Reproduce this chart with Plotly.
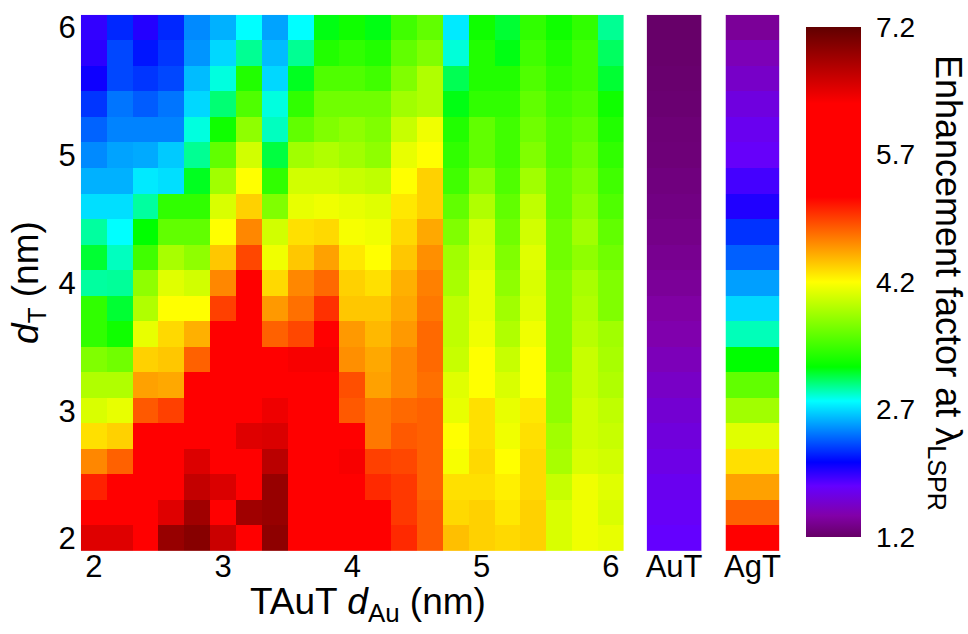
import plotly.graph_objects as go

# ---- data ----
d_au = [2.0, 2.2, 2.4, 2.6, 2.8, 3.0, 3.2, 3.4, 3.6, 3.8, 4.0,
        4.2, 4.4, 4.6, 4.8, 5.0, 5.2, 5.4, 5.6, 5.8, 6.0]
d_t = [2.0, 2.2, 2.4, 2.6, 2.8, 3.0, 3.2, 3.4, 3.6, 3.8, 4.0,
       4.2, 4.4, 4.6, 4.8, 5.0, 5.2, 5.4, 5.6, 5.8, 6.0]

# rows listed from d_T = 6.0 (top) down to d_T = 2.0 (bottom)
taut_rows_top_down = [
    [1.94, 2.19, 1.98, 2.19, 2.47, 2.58, 2.80, 2.54, 2.80, 3.17, 3.26, 3.17, 3.45, 3.58, 2.74, 3.26, 3.12, 3.39, 3.26, 3.39, 2.97],
    [1.96, 2.28, 2.14, 2.23, 2.50, 2.69, 2.97, 2.61, 2.97, 3.33, 3.39, 3.33, 3.58, 3.70, 2.86, 3.33, 3.17, 3.45, 3.33, 3.45, 3.05],
    [2.04, 2.28, 2.23, 2.28, 2.61, 2.85, 3.33, 2.69, 3.15, 3.51, 3.51, 3.45, 3.70, 3.89, 3.07, 3.33, 3.33, 3.51, 3.39, 3.45, 3.12],
    [2.23, 2.41, 2.34, 2.41, 2.69, 3.02, 3.51, 2.85, 3.39, 3.64, 3.64, 3.64, 3.83, 3.89, 3.17, 3.39, 3.39, 3.58, 3.45, 3.51, 3.26],
    [2.36, 2.45, 2.45, 2.45, 2.85, 3.26, 3.76, 2.90, 3.58, 3.70, 3.76, 3.70, 3.98, 4.14, 3.33, 3.58, 3.45, 3.64, 3.51, 3.58, 3.33],
    [2.47, 2.54, 2.56, 2.65, 2.97, 3.58, 4.02, 3.10, 3.83, 3.89, 3.83, 3.76, 4.11, 4.20, 3.39, 3.58, 3.45, 3.70, 3.51, 3.64, 3.39],
    [2.58, 2.58, 2.74, 2.71, 3.15, 3.83, 4.20, 3.39, 4.02, 4.02, 3.98, 3.95, 4.20, 4.38, 3.45, 3.76, 3.51, 3.83, 3.58, 3.70, 3.45],
    [2.71, 2.71, 2.95, 3.39, 3.39, 4.05, 4.38, 3.70, 4.11, 4.14, 4.11, 4.08, 4.29, 4.38, 3.58, 3.89, 3.58, 3.95, 3.58, 3.76, 3.51],
    [2.95, 2.80, 3.20, 3.58, 3.58, 4.20, 4.67, 4.02, 4.32, 4.35, 4.17, 4.14, 4.35, 4.54, 3.70, 4.02, 3.64, 4.02, 3.64, 3.83, 3.58],
    [3.12, 2.90, 3.45, 3.86, 3.76, 4.42, 4.92, 4.14, 4.42, 4.57, 4.29, 4.20, 4.42, 4.64, 3.83, 4.05, 3.70, 4.08, 3.64, 3.76, 3.64],
    [2.95, 2.96, 3.76, 4.08, 4.02, 4.67, 5.50, 4.35, 4.67, 4.79, 4.38, 4.32, 4.51, 4.70, 3.86, 4.11, 3.76, 4.05, 3.70, 3.86, 3.70],
    [3.39, 3.12, 3.89, 4.20, 4.20, 4.95, 5.60, 4.60, 4.76, 5.01, 4.42, 4.42, 4.54, 4.73, 3.95, 4.11, 3.83, 4.08, 3.70, 3.89, 3.70],
    [3.39, 3.26, 4.11, 4.35, 4.51, 5.50, 5.60, 4.82, 4.92, 5.60, 4.60, 4.48, 4.60, 4.79, 3.95, 4.14, 3.89, 4.14, 3.70, 3.92, 3.83],
    [3.70, 3.64, 4.38, 4.42, 4.82, 5.60, 5.70, 5.70, 6.34, 6.34, 4.64, 4.54, 4.67, 4.79, 3.98, 4.20, 3.98, 4.20, 3.70, 3.98, 3.86],
    [3.89, 3.89, 4.57, 4.54, 5.50, 5.60, 5.70, 5.80, 5.80, 5.80, 4.89, 4.57, 4.67, 4.76, 4.08, 4.20, 4.05, 4.20, 3.76, 3.98, 3.89],
    [4.05, 4.11, 4.85, 4.95, 5.60, 5.70, 5.80, 6.39, 5.90, 5.80, 4.85, 4.73, 4.79, 4.82, 4.11, 4.32, 4.11, 4.29, 3.76, 4.02, 3.95],
    [4.32, 4.38, 5.50, 5.60, 5.70, 5.80, 6.48, 6.51, 5.90, 5.90, 5.50, 4.73, 4.85, 4.82, 4.20, 4.32, 4.14, 4.32, 3.83, 4.02, 3.98],
    [4.67, 4.82, 5.60, 5.70, 6.50, 5.80, 5.90, 6.69, 5.90, 6.00, 6.34, 4.95, 4.92, 4.82, 4.17, 4.35, 4.20, 4.35, 3.86, 4.05, 4.02],
    [5.07, 5.60, 5.70, 5.80, 6.64, 6.51, 5.90, 6.89, 6.00, 6.00, 5.80, 5.04, 4.98, 4.82, 4.32, 4.32, 4.26, 4.35, 3.98, 4.14, 4.08],
    [5.60, 5.70, 5.80, 6.48, 6.84, 5.90, 6.84, 6.89, 6.00, 6.00, 5.80, 5.60, 4.98, 4.85, 4.35, 4.38, 4.29, 4.38, 4.05, 4.14, 4.05],
    [6.48, 6.48, 5.90, 6.89, 6.98, 6.60, 6.00, 6.94, 6.00, 6.00, 5.90, 5.70, 5.04, 4.85, 4.45, 4.38, 4.35, 4.38, 4.05, 4.14, 4.11],
]

# single-column references, listed from d_T = 6.0 (top) down to 2.0 (bottom)
aut_top_down = [1.21, 1.22, 1.23, 1.24, 1.26, 1.27, 1.29, 1.31, 1.33, 1.36, 1.39,
                1.43, 1.47, 1.52, 1.57, 1.62, 1.66, 1.70, 1.74, 1.77, 1.80]
agt_top_down = [1.39, 1.51, 1.58, 1.67, 1.74, 1.78, 1.89, 1.99, 2.22, 2.35, 2.53,
                2.69, 2.91, 3.20, 3.58, 3.83, 4.08, 4.32, 4.57, 4.82, 5.40]

x_ticks = [2, 3, 4, 5, 6]
y_ticks = [2, 3, 4, 5, 6]
cbar_ticks = [1.2, 2.7, 4.2, 5.7, 7.2]
zmin, zmax = 1.2, 7.2

# ---- styling ----
W, H = 968, 634
FONT = "Arial, Liberation Sans, sans-serif"

def vx(p):
    return p / W

def vy(p):
    return 1 - p / H

stops = [(1.2, "#660066"), (1.45, "#8200a8"), (1.8, "#6400ff"), (2.08, "#0000ff"),
         (2.8, "#00ffff"), (3.2, "#00ff00"), (4.2, "#ffff00"), (5.2, "#ff0000"),
         (6.3, "#ff0000"), (7.2, "#600000")]
colorscale = [[(v - zmin) / (zmax - zmin), c] for v, c in stops]

z_main = taut_rows_top_down[::-1]
z_aut = [[v] for v in aut_top_down[::-1]]
z_agt = [[v] for v in agt_top_down[::-1]]

fig = go.Figure()
fig.add_trace(go.Heatmap(x=d_au, y=d_t, z=z_main, coloraxis="coloraxis",
                         xaxis="x", yaxis="y", xgap=0, ygap=0))
fig.add_trace(go.Heatmap(x=["AuT"], y=d_t, z=z_aut, coloraxis="coloraxis",
                         xaxis="x2", yaxis="y2"))
fig.add_trace(go.Heatmap(x=["AgT"], y=d_t, z=z_agt, coloraxis="coloraxis",
                         xaxis="x3", yaxis="y3"))

tickfont = dict(family=FONT, size=31, color="black")
ydom = [vy(555), vy(11)]
yrange = [1.9, 6.1]

common_y = dict(range=yrange, domain=ydom, showgrid=False, zeroline=False,
                showline=False, ticks="")
common_x = dict(showgrid=False, zeroline=False, showline=False, ticks="",
                ticklabelstandoff=-6, tickfont=tickfont)

fig.update_layout(
    width=W, height=H,
    margin=dict(l=0, r=0, t=0, b=0),
    paper_bgcolor="white", plot_bgcolor="white",
    font=dict(family=FONT, color="black"),
    coloraxis=dict(
        cmin=zmin, cmax=zmax, colorscale=colorscale,
        colorbar=dict(
            x=vx(807), xanchor="left", xpad=0,
            y=vy(282), yanchor="middle", ypad=0,
            thickness=55, thicknessmode="pixels",
            len=510, lenmode="pixels",
            outlinewidth=0,
            tickvals=cbar_ticks, ticktext=[f"{t:.1f}" for t in cbar_ticks],
            ticks="outside", ticklen=10, tickcolor="rgba(0,0,0,0)",
            tickfont=dict(family=FONT, size=28, color="black"),
        ),
    ),
    xaxis=dict(domain=[vx(80), vx(624)], range=[1.9, 6.1], tickvals=x_ticks,
               anchor="y", **common_x),
    yaxis=dict(tickvals=y_ticks, tickfont=tickfont, anchor="x",
               ticklabelstandoff=4, **common_y),
    xaxis2=dict(domain=[vx(647), vx(702)], anchor="y2", type="category", **common_x),
    yaxis2=dict(anchor="x2", showticklabels=False, **common_y),
    xaxis3=dict(domain=[vx(726), vx(780)], anchor="y3", type="category", **common_x),
    yaxis3=dict(anchor="x3", showticklabels=False, **common_y),
)

title_font = dict(family=FONT, size=37, color="black")
fig.add_annotation(text="TAuT <i>d</i><sub>Au</sub> (nm)", xref="paper", yref="paper",
                   x=vx(368), y=vy(609), xanchor="center", yanchor="middle",
                   showarrow=False, font=title_font)
fig.add_annotation(text="<i>d</i><sub>T</sub> (nm)", xref="paper", yref="paper",
                   x=vx(27), y=vy(282), xanchor="center", yanchor="middle",
                   textangle=-90, showarrow=False, font=title_font)
fig.add_annotation(text="Enhancement factor at λ<sub>LSPR</sub>", xref="paper", yref="paper",
                   x=vx(947), y=vy(283), xanchor="center", yanchor="middle",
                   textangle=90, showarrow=False,
                   font=dict(family=FONT, size=36, color="black"))

fig.write_html("out.html")
